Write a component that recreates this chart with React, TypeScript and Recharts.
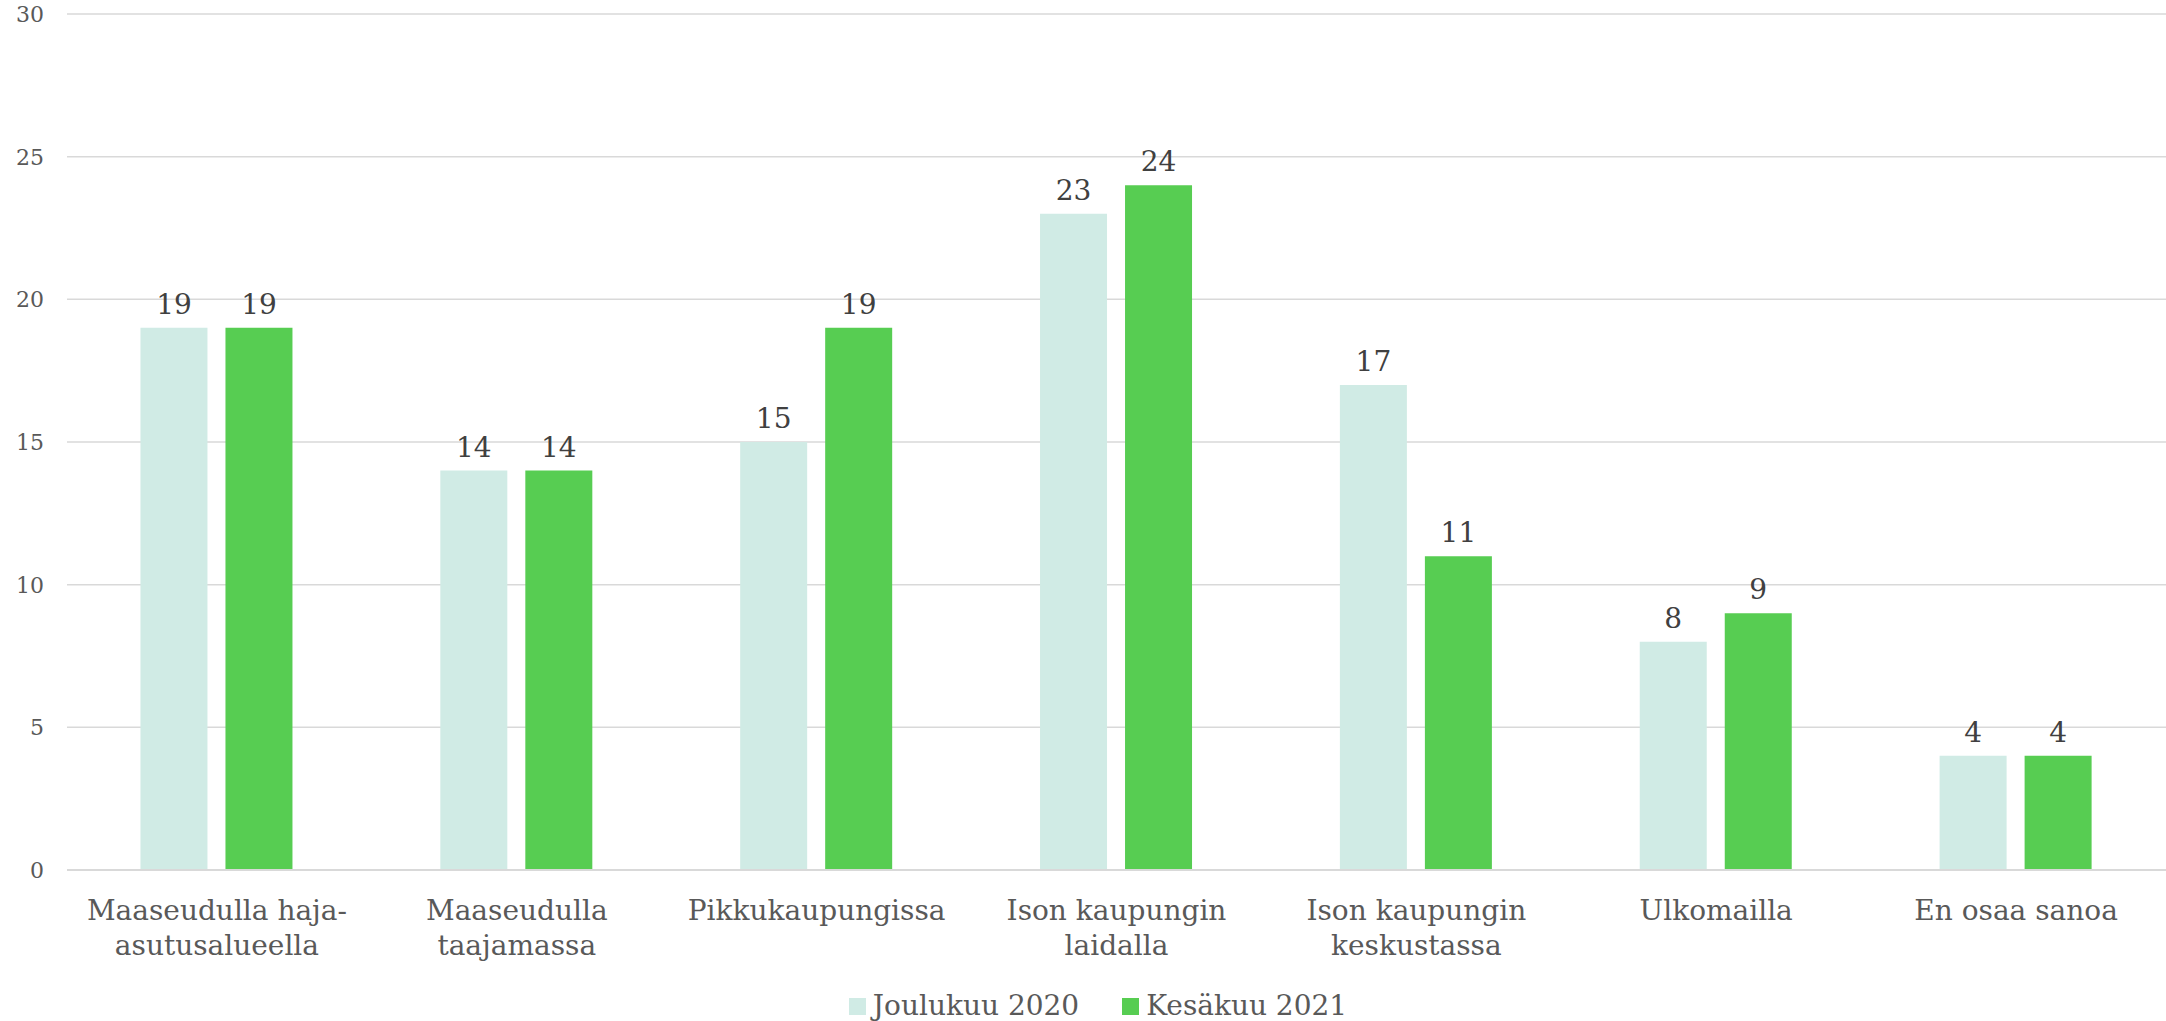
import React from 'react';
import { BarChart, Bar, XAxis, YAxis, CartesianGrid, Legend, LabelList } from 'recharts';

const categories = [
  'Maaseudulla haja-\nasutusalueella',
  'Maaseudulla\ntaajamassa',
  'Pikkukaupungissa',
  'Ison kaupungin\nlaidalla',
  'Ison kaupungin\nkeskustassa',
  'Ulkomailla',
  'En osaa sanoa',
];
const joulukuu2020 = [19, 14, 15, 23, 17, 8, 4];
const kesakuu2021 = [19, 14, 19, 24, 11, 9, 4];
const yTicks = [0, 5, 10, 15, 20, 25, 30];

const data = categories.map((name, i) => ({
  name,
  joulukuu: joulukuu2020[i],
  kesakuu: kesakuu2021[i],
}));

const FONT = '"DejaVu Serif", serif';
const TEXT = '#595959';

function CategoryTick({ x, y, payload }: any) {
  const lines = String(payload.value).split('\n');
  return (
    <text x={x} y={y} textAnchor="middle" fill={TEXT} fontSize={28} fontFamily={FONT}>
      {lines.map((line, i) => (
        <tspan key={i} x={x} dy={i === 0 ? 42 : 35}>
          {line}
        </tspan>
      ))}
    </text>
  );
}

function ValueTick({ x, y, payload }: any) {
  return (
    <text x={x} y={y} dy={8} textAnchor="end" fill={TEXT} fontSize={22} fontFamily={FONT}>
      {payload.value}
    </text>
  );
}

function LegendContent({ payload }: any) {
  return (
    <div style={{ height: 51, display: 'flex', justifyContent: 'center', paddingLeft: 30, boxSizing: 'border-box' }}>
      {(payload || []).map((entry: any, i: number) => (
        <div
          key={i}
          style={{ display: 'flex', alignItems: 'center', marginTop: 22, height: 28, marginRight: i === 0 ? 43 : 0 }}
        >
          <span style={{ width: 17, height: 17, background: entry.color, display: 'inline-block', marginRight: 7 }} />
          <span style={{ fontSize: 28, lineHeight: '28px', color: TEXT, fontFamily: FONT }}>{entry.value}</span>
        </div>
      ))}
    </div>
  );
}

export default function App() {
  return (
    <div style={{ position: 'absolute', left: 0, top: 0, background: '#fff' }}>
      <BarChart
        width={2166}
        height={1021}
        data={data}
        margin={{ top: 14, right: 0, left: 0, bottom: 0 }}
        barCategoryGap="24.5%"
        barGap={18}
        style={{ fontFamily: FONT }}
      >
        <CartesianGrid vertical={false} stroke="#d9d9d9" strokeWidth={1.5} />
        <XAxis
          dataKey="name"
          interval={0}
          height={100}
          tickLine={false}
          axisLine={{ stroke: '#d9d9d9', strokeWidth: 2 }}
          tick={<CategoryTick />}
        />
        <YAxis
          width={67}
          domain={[0, 30]}
          ticks={yTicks}
          axisLine={false}
          tickLine={false}
          tickMargin={17}
          tick={<ValueTick />}
        />
        <Legend verticalAlign="bottom" height={51} content={<LegendContent />} />
        <Bar dataKey="joulukuu" name="Joulukuu 2020" fill="#d0ebe5" isAnimationActive={false}>
          <LabelList dataKey="joulukuu" position="top" offset={14} fill="#404040" fontSize={28} fontFamily={FONT} />
        </Bar>
        <Bar dataKey="kesakuu" name="Kesäkuu 2021" fill="#57cd52" isAnimationActive={false}>
          <LabelList dataKey="kesakuu" position="top" offset={14} fill="#404040" fontSize={28} fontFamily={FONT} />
        </Bar>
      </BarChart>
    </div>
  );
}
